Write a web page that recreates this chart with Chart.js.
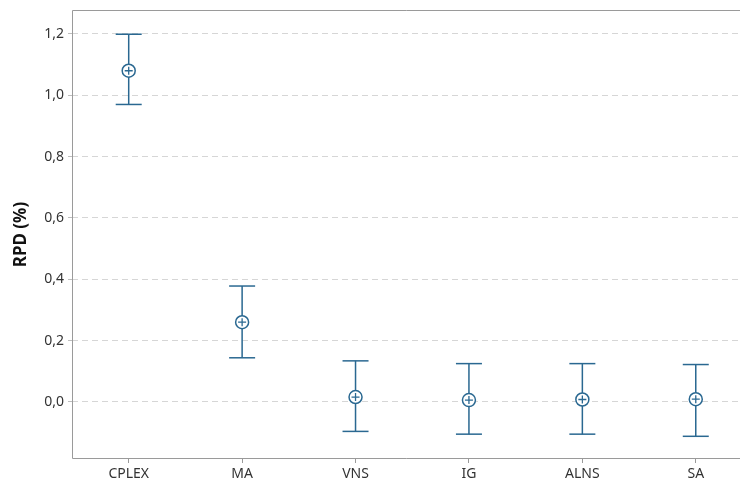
<!DOCTYPE html>
<html>
<head>
<meta charset="utf-8">
<script src="https://cdn.jsdelivr.net/npm/chart.js@4/dist/chart.umd.min.js"></script>
<style>
  body { margin: 0; background: #fff; }
  #wrap { width: 740px; height: 487px; }
</style>
</head>
<body>
<div id="wrap"><canvas id="rpdChart" width="740" height="487"></canvas></div>
<script>
// data
const categories = ['CPLEX', 'MA', 'VNS', 'IG', 'ALNS', 'SA'];
const means = [1.080, 0.260, 0.016, 0.006, 0.008, 0.009];
const upper = [1.199, 0.378, 0.134, 0.125, 0.125, 0.122];
const lower = [0.970, 0.144, -0.096, -0.105, -0.105, -0.112];
const yTicks = [0.0, 0.2, 0.4, 0.6, 0.8, 1.0, 1.2];

const blue = '#2a6891';
const axisGrey = '#9a9a9a';

// whisker segments, broken by null points
const whiskers = [];
categories.forEach((c, i) => {
  whiskers.push({ x: i, y: lower[i] });
  whiskers.push({ x: i, y: upper[i] });
  whiskers.push({ x: i, y: null });
});
const caps = [];
categories.forEach((c, i) => {
  caps.push({ x: i, y: upper[i] });
  caps.push({ x: i, y: lower[i] });
});
const meanPts = means.map((m, i) => ({ x: i, y: m }));

// frame of the plot area: left, bottom and top (no right side)
const frame = {
  id: 'frame',
  afterDraw(chart) {
    const a = chart.chartArea;
    const ctx = chart.ctx;
    ctx.save();
    ctx.strokeStyle = axisGrey;
    ctx.lineWidth = 1;
    ctx.beginPath();
    ctx.moveTo(a.right, a.top + 0.5);
    ctx.lineTo(a.left + 0.5, a.top + 0.5);
    ctx.lineTo(a.left + 0.5, a.bottom - 0.5);
    ctx.lineTo(a.right, a.bottom - 0.5);
    ctx.stroke();
    ctx.restore();
  }
};

new Chart(document.getElementById('rpdChart').getContext('2d'), {
  type: 'scatter',
  data: {
    datasets: [
      {
        // cross inside the mean symbol
        data: meanPts,
        pointStyle: 'cross',
        pointRadius: 4,
        borderColor: blue,
        borderWidth: 1.3,
      },
      {
        data: meanPts,
        pointStyle: 'circle',
        pointRadius: 6.5,
        backgroundColor: '#ffffff',
        borderColor: blue,
        borderWidth: 1.5,
      },
      {
        data: caps,
        pointStyle: 'line',
        pointRadius: 13,
        borderColor: blue,
        borderWidth: 1.5,
      },
      {
        type: 'line',
        data: whiskers,
        borderColor: blue,
        borderWidth: 1.5,
        pointRadius: 0,
        spanGaps: false,
        fill: false,
      },
    ],
  },
  options: {
    responsive: false,
    animation: false,
    layout: { autoPadding: false, padding: { top: 10, right: 0, left: 0, bottom: 0 } },
    plugins: { legend: { display: false }, tooltip: { enabled: false } },
    scales: {
      x: {
        type: 'linear',
        min: -0.5,
        max: 5.39,
        afterBuildTicks: (scale) => { scale.ticks = categories.map((c, i) => ({ value: i })); },
        afterFit: (scale) => {
          scale.height = 28;
          scale.paddingLeft = 0;
          scale.paddingRight = 0;
        },
        grid: { drawOnChartArea: false, drawTicks: true, tickLength: 4, tickColor: axisGrey },
        border: { display: false },
        ticks: {
          padding: 3,
          color: '#333',
          font: { family: 'Noto Sans', size: 14 },
          maxRotation: 0,
          callback: (v) => categories[v],
        },
      },
      y: {
        min: -0.186,
        max: 1.278,
        afterBuildTicks: (scale) => { scale.ticks = yTicks.map((v) => ({ value: v })); },
        afterFit: (scale) => {
          scale.width = 72;
          scale.paddingTop = 0;
          scale.paddingBottom = 0;
        },
        grid: {
          color: '#d6d6d6',
          tickLength: 4,
          tickColor: '#bdbdbd',
          tickBorderDash: [],
        },
        border: { display: false, dash: [6, 4] },
        ticks: {
          padding: 4,
          color: '#333',
          font: { family: 'Noto Sans', size: 14 },
          callback: (v) => v.toFixed(1).replace('.', ','),
        },
        title: {
          display: true,
          text: 'RPD (%)',
          color: '#111',
          font: { family: 'Noto Sans', size: 17, weight: 'bold' },
          padding: { top: 11, bottom: 4 },
        },
      },
    },
  },
  plugins: [frame],
});
</script>
</body>
</html>
